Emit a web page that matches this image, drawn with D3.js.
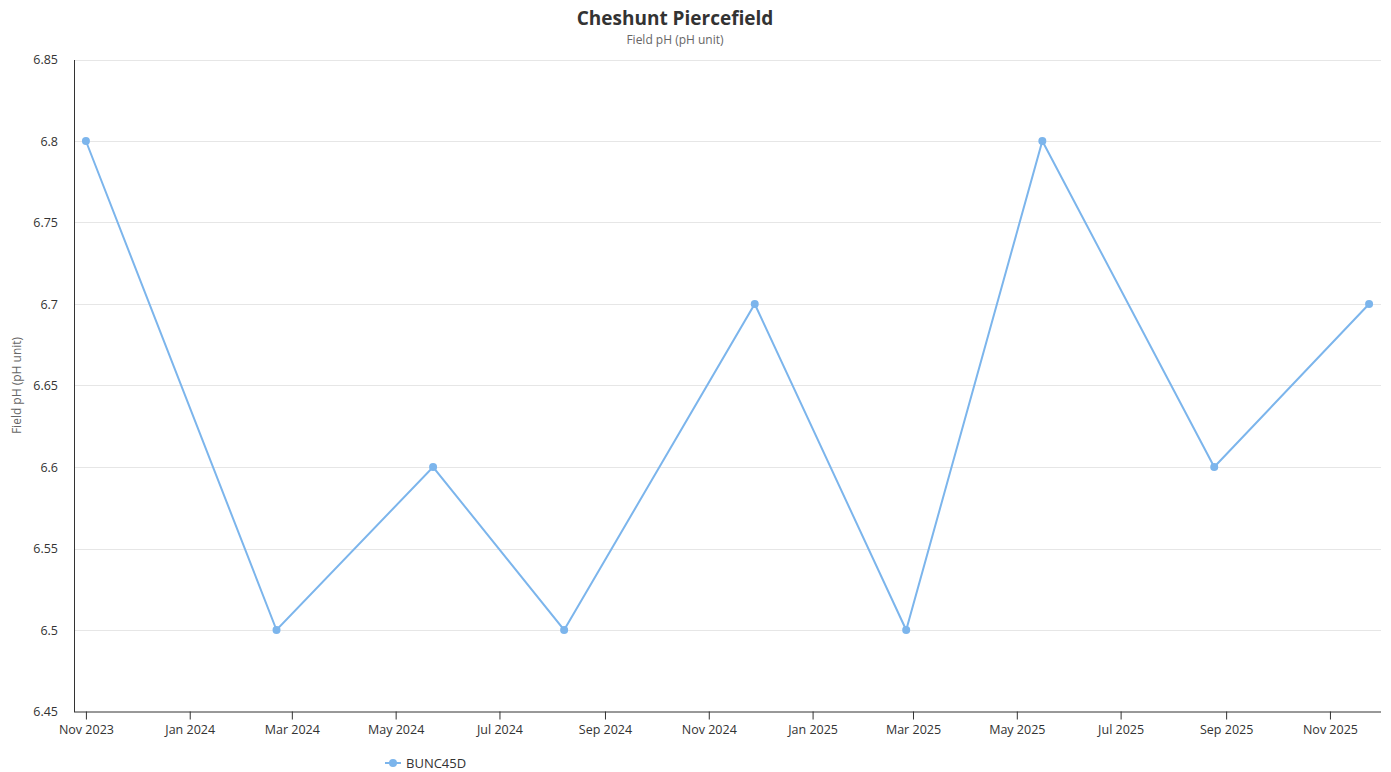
<!DOCTYPE html>
<html><head><meta charset="utf-8">
<script src="https://cdn.jsdelivr.net/npm/d3@7"></script>
<style>
body{margin:0;background:#fff;font-family:"Segoe UI","Open Sans","Noto Sans",sans-serif;}
</style></head>
<body><svg id="c" width="1391" height="772"></svg>
<script>
const title = "Cheshunt Piercefield";
const subtitle = "Field pH (pH unit)";
const yTitle = "Field pH (pH unit)";
const seriesName = "BUNC45D";
const dates = ["2023-11-01","2024-02-21","2024-05-23","2024-08-08","2024-11-28","2025-02-25","2025-05-16","2025-08-25","2025-11-24"];
const values = [6.8, 6.5, 6.6, 6.5, 6.7, 6.5, 6.8, 6.6, 6.7];
const yTicks = [6.45, 6.5, 6.55, 6.6, 6.65, 6.7, 6.75, 6.8, 6.85];
const xTicks = ["2023-11-01","2024-01-01","2024-03-01","2024-05-01","2024-07-01","2024-09-01","2024-11-01","2025-01-01","2025-03-01","2025-05-01","2025-07-01","2025-09-01","2025-11-01"];
const xDomain = ["2023-10-25","2025-12-01"];

const parse = d3.utcParse("%Y-%m-%d");
const fmt = d3.utcFormat("%b %Y");
const svg = d3.select("#c");
const L = 74, R = 1381, T = 59.5, B = 711.5;
const x = d3.scaleUtc().domain(xDomain.map(parse)).range([L, R]);
const y = d3.scaleLinear().domain([6.45, 6.85]).range([B, T]);
const color = "#7cb5ec";
const ff = "Segoe UI, Open Sans, sans-serif";

// grid
svg.append("g").selectAll("line").data(yTicks.slice(1)).join("line")
  .attr("x1", L).attr("x2", R).attr("y1", d => Math.round(y(d)) + 0.5).attr("y2", d => Math.round(y(d)) + 0.5)
  .attr("stroke", "#e6e6e6").attr("stroke-width", 1);

// y axis
const ya = svg.append("g").attr("transform", `translate(${L},0)`)
  .call(d3.axisLeft(y).tickValues(yTicks).tickSize(0).tickPadding(16).tickFormat(d => String(+d.toFixed(2))));
ya.select(".domain").attr("stroke", "#333").attr("stroke-width", 1);
ya.selectAll("text").attr("font-size", 12.5).attr("fill", "#333").attr("font-family", ff);

// x axis
const xa = svg.append("g").attr("transform", `translate(0,${B})`)
  .call(d3.axisBottom(x).tickValues(xTicks.map(parse)).tickSize(8).tickPadding(6).tickFormat(fmt));
xa.select(".domain").attr("stroke", "#333").attr("d", `M${L},0.5H${R}`);
xa.selectAll(".tick line").attr("stroke", "#333");
xa.selectAll("text").attr("font-size", 12.5).attr("fill", "#333").attr("font-family", ff);

// line
const pts = dates.map((d, i) => ({d: parse(d), v: values[i]}));
svg.append("path").datum(pts)
  .attr("d", d3.line().x(p => x(p.d)).y(p => y(p.v)))
  .attr("fill", "none").attr("stroke", color).attr("stroke-width", 2);
svg.append("g").selectAll("circle").data(pts).join("circle")
  .attr("cx", p => x(p.d)).attr("cy", p => y(p.v)).attr("r", 4).attr("fill", color);

// titles
svg.append("text").attr("x", 675).attr("y", 25).attr("text-anchor", "middle")
  .attr("font-size", 19).attr("font-weight", "bold").attr("fill", "#333").text(title);
svg.append("text").attr("x", 675).attr("y", 44).attr("text-anchor", "middle")
  .attr("font-size", 12).attr("fill", "#666").text(subtitle);
svg.append("text").attr("transform", `translate(21,${(T + B) / 2}) rotate(-90)`).attr("text-anchor", "middle")
  .attr("font-size", 12).attr("fill", "#666").text(yTitle);

// legend
const lg = svg.append("g").attr("transform", "translate(385,763)");
lg.append("line").attr("x1", 0).attr("x2", 16).attr("y1", 0).attr("y2", 0).attr("stroke", color).attr("stroke-width", 2);
lg.append("circle").attr("cx", 8).attr("cy", 0).attr("r", 4).attr("fill", color);
lg.append("text").attr("x", 21).attr("y", 4.5).attr("font-size", 13).attr("fill", "#333").text(seriesName);
</script></body></html>
